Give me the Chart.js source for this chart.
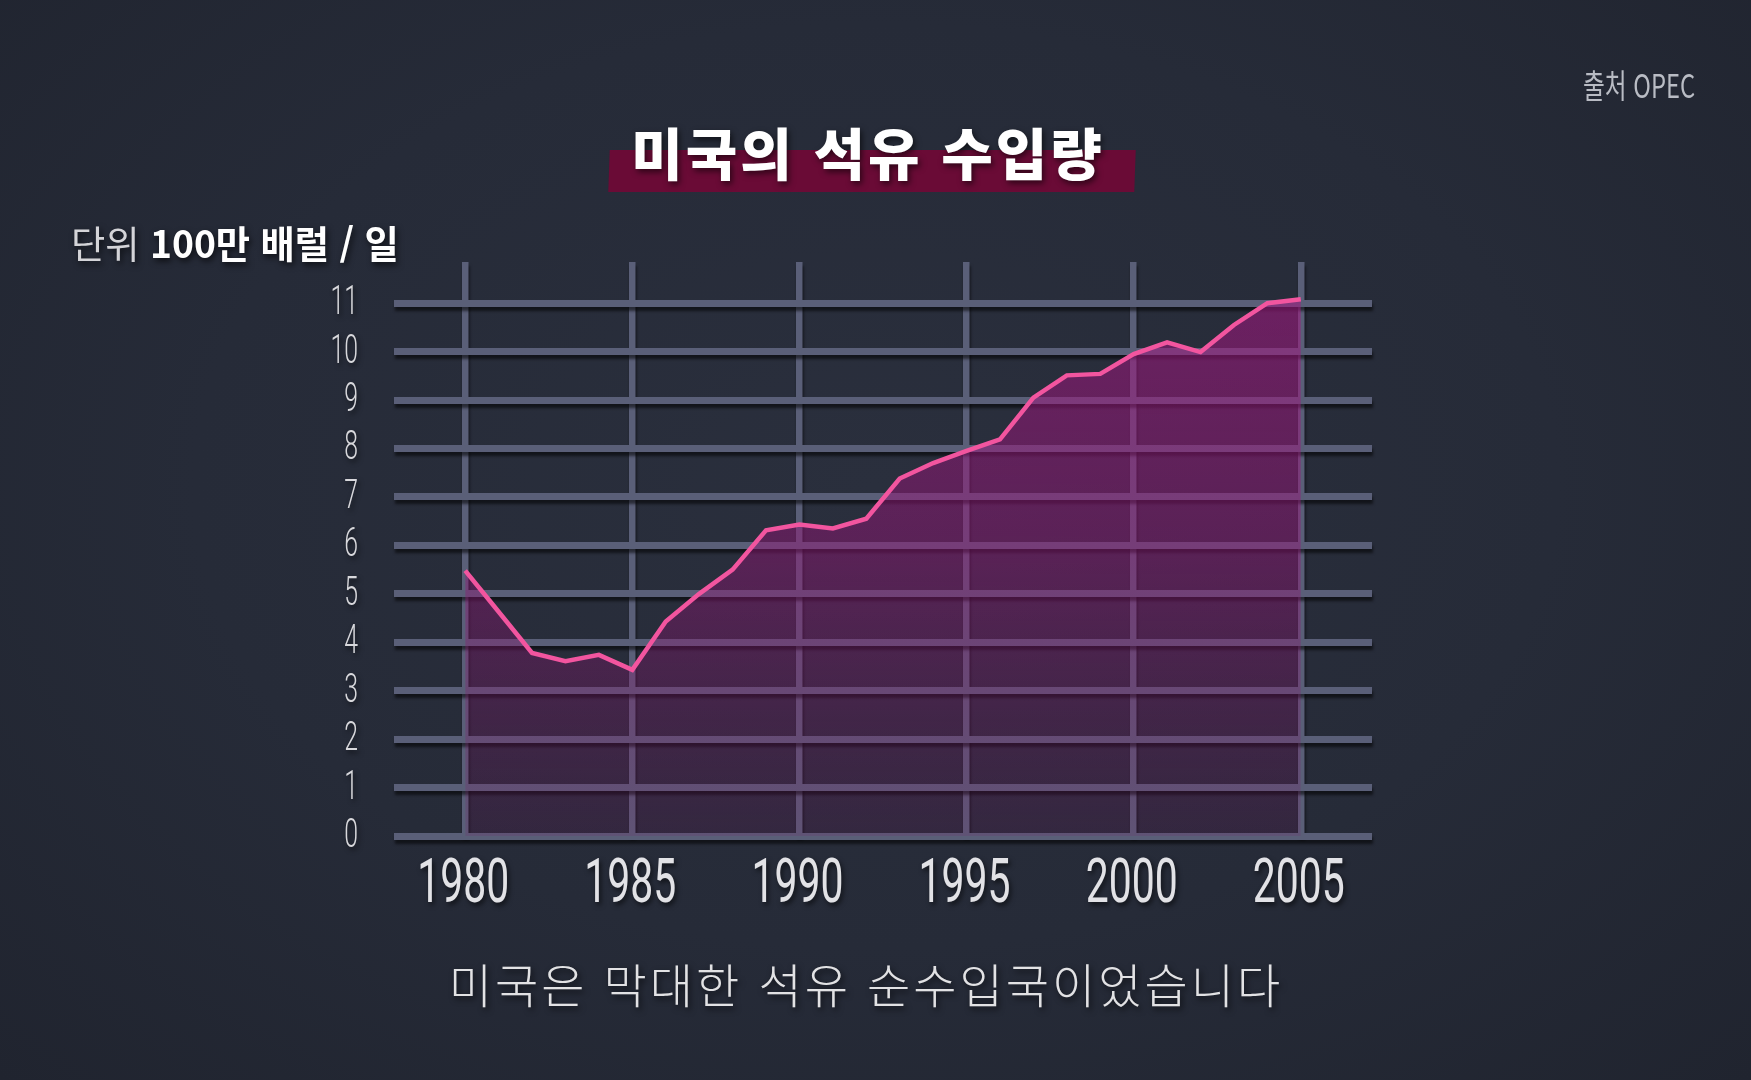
<!DOCTYPE html>
<html lang="ko">
<head>
<meta charset="utf-8">
<title>미국의 석유 수입량</title>
<script src="https://cdn.jsdelivr.net/npm/chart.js@4/dist/chart.umd.min.js"></script>
<style>
  html, body {
    margin: 0;
    padding: 0;
    width: 1751px;
    height: 1080px;
    overflow: hidden;
    background: #262b38;
  }
  #stage {
    position: relative;
    width: 1751px;
    height: 1080px;
    background: radial-gradient(ellipse at 50% 45%, #2a2f3d 0%, #262b38 55%, #20242f 100%);
    font-family: "Noto Sans CJK KR", sans-serif;
  }
  #chart-box {
    position: absolute;
    left: 0;
    top: 0;
    width: 1751px;
    height: 1080px;
  }
  .band {
    position: absolute;
    left: 609px;
    top: 150px;
    width: 526px;
    height: 42px;
    background: #6a0b36;
    transform: skewX(-2deg);
  }
  .title {
    position: absolute;
    left: 0;
    width: 1736px;
    top: 110px;
    text-align: center;
    color: #fff;
    font-size: 56px;
    font-weight: 900;
    letter-spacing: 3px;
    text-shadow: 2px 3px 6px rgba(0, 0, 0, 0.6);
  }
  .unit {
    position: absolute;
    left: 71px;
    top: 214px;
    font-size: 38px;
    color: #d4d4d8;
    white-space: nowrap;
    transform: scaleX(0.98);
    transform-origin: left top;
    text-shadow: 2px 3px 6px rgba(0, 0, 0, 0.7);
  }
  .unit b {
    color: #fff;
    font-weight: 700;
  }
  .source {
    position: absolute;
    left: 1583px;
    top: 60px;
    font-size: 33px;
    color: #b9bcc4;
    white-space: nowrap;
    transform: scaleX(0.72);
    transform-origin: left top;
  }
  .caption {
    position: absolute;
    left: 0;
    width: 1732px;
    top: 948px;
    text-align: center;
    font-size: 47px;
    font-weight: 300;
    letter-spacing: 3px;
    color: #e2e2e4;
    text-shadow: 2px 3px 6px rgba(0, 0, 0, 0.7);
  }
</style>
</head>
<body>
<div id="stage">
  <div id="chart-box"><canvas id="imports-chart"></canvas></div>
  <div class="band"></div>
  <div class="title">미국의 석유 수입량</div>
  <div class="unit">단위 <b>100만 배럴 / 일</b></div>
  <div class="source">출처 OPEC</div>
  <div class="caption">미국은 막대한 석유 순수입국이었습니다</div>
</div>

<script>
// values (million barrels / day)
const years = [1980, 1981, 1982, 1983, 1984, 1985, 1986, 1987, 1988, 1989,
               1990, 1991, 1992, 1993, 1994, 1995, 1996, 1997, 1998, 1999,
               2000, 2001, 2002, 2003, 2004, 2005];
const imports = [5.48, 4.63, 3.78, 3.61, 3.74, 3.43, 4.43, 5.0, 5.5, 6.31,
                 6.43, 6.35, 6.55, 7.38, 7.7, 7.95, 8.19, 9.05, 9.51, 9.54,
                 9.95, 10.19, 9.99, 10.55, 11.0, 11.08];
const xTicks = [1980, 1985, 1990, 1995, 2000, 2005];
const yTicks = [0, 1, 2, 3, 4, 5, 6, 7, 8, 9, 10, 11];

const gridColor = "#5a5f78";

// shadow under the grid bars, switched off again before the area is drawn
const gridShadow = {
    id: "gridShadow",
    beforeDraw(chart) {
        const c = chart.ctx;
        c.shadowColor = "rgba(0, 0, 0, 0.55)";
        c.shadowOffsetX = 1;
        c.shadowOffsetY = 4;
        c.shadowBlur = 3;
    },
    beforeDatasetsDraw(chart) {
        const c = chart.ctx;
        c.shadowColor = "rgba(0, 0, 0, 0)";
        c.shadowOffsetX = 0;
        c.shadowOffsetY = 0;
        c.shadowBlur = 0;
    }
};

// the tick numbers are a condensed face, so squeeze them horizontally
const narrowLabels = {
    id: "narrowLabels",
    afterDraw(chart) {
        const c = chart.ctx;
        const xs = chart.scales.x;
        const ys = chart.scales.y;
        const area = chart.chartArea;
        c.save();
        c.shadowColor = "rgba(0, 0, 0, 0.6)";
        c.shadowOffsetX = 2;
        c.shadowOffsetY = 3;
        c.shadowBlur = 5;
        c.textBaseline = "middle";

        c.fillStyle = "#e2e2e6";
        c.font = "400 62px Roboto, sans-serif";
        c.textAlign = "center";
        xs.ticks.forEach(t => {
            c.save();
            c.translate(xs.getPixelForValue(t.value) - 2, area.bottom + 50);
            c.scale(0.66, 1);
            c.fillText(String(t.value), 0, 0);
            c.restore();
        });

        c.fillStyle = "#d8d8dc";
        c.font = "300 40px Roboto, sans-serif";
        c.textAlign = "right";
        ys.ticks.forEach(t => {
            c.save();
            c.translate(area.left - 36, ys.getPixelForValue(t.value) + 1);
            c.scale(0.62, 1);
            c.fillText(String(t.value), 0, 0);
            c.restore();
        });
        c.restore();
    }
};

const ctx = document.getElementById("imports-chart").getContext("2d");

function fillGradient(context) {
    const area = context.chart.chartArea;
    if (!area) return "rgba(150, 20, 120, 0.4)";
    const g = context.chart.ctx.createLinearGradient(0, area.top, 0, area.bottom);
    g.addColorStop(0, "rgba(165, 24, 130, 0.58)");
    g.addColorStop(0.5, "rgba(150, 20, 120, 0.45)");
    g.addColorStop(1, "rgba(120, 20, 100, 0.16)");
    return g;
}

const chart = new Chart(ctx, {
    type: "line",
    data: {
        datasets: [{
            label: "미국의 석유 수입량",
            data: years.map((yr, i) => ({ x: yr, y: imports[i] })),
            borderColor: "#f2559f",
            borderWidth: 4.5,
            backgroundColor: fillGradient,
            fill: "origin",
            pointRadius: 0,
            tension: 0
        }]
    },
    options: {
        responsive: true,
        maintainAspectRatio: false,
        animation: false,
        layout: {
            padding: { left: 0, top: 262, right: 379, bottom: 144 }
        },
        plugins: {
            legend: { display: false },
            tooltip: { enabled: false }
        },
        scales: {
            x: {
                type: "linear",
                min: 1977.87,
                max: 2007.13,
                afterBuildTicks: scale => {
                    scale.ticks = xTicks.map(v => ({ value: v }));
                },
                afterFit: scale => { scale.height = 100; },
                border: { display: false },
                grid: {
                    color: gridColor,
                    lineWidth: 6.5,
                    drawTicks: false
                },
                ticks: { display: false }
            },
            y: {
                min: 0,
                max: 11.85,
                afterBuildTicks: scale => {
                    scale.ticks = yTicks.map(v => ({ value: v }));
                },
                afterFit: scale => { scale.width = 394; },
                border: { display: false },
                grid: {
                    color: gridColor,
                    lineWidth: 7,
                    drawTicks: false
                },
                ticks: { display: false }
            }
        }
    },
    plugins: [gridShadow, narrowLabels]
});
</script>
</body>
</html>
